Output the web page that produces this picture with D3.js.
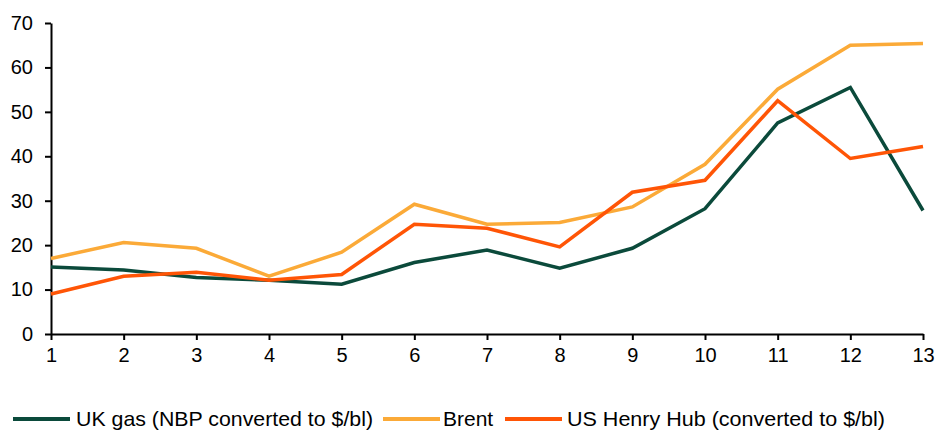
<!DOCTYPE html>
<html>
<head>
<meta charset="utf-8">
<script src="https://cdn.jsdelivr.net/npm/d3@7"></script>
<style>
  body { margin: 0; background: #fff; }
  #chart text { font-family: "Liberation Sans", Arial, sans-serif; fill: #000; }
  .axis path, .axis line { stroke: #000; stroke-width: 2px; }
  .line { fill: none; stroke-width: 3.5px; stroke-linejoin: miter; }
</style>
</head>
<body>
<div id="chart"></div>
<script>
// x positions 1..13
var periods = [1, 2, 3, 4, 5, 6, 7, 8, 9, 10, 11, 12, 13];
var ukGas = [15.1, 14.4, 12.7, 12.1, 11.2, 16.1, 18.9, 14.8, 19.3, 28.2, 47.5, 55.5, 27.8];
var brent = [17.0, 20.6, 19.3, 13.0, 18.4, 29.2, 24.7, 25.1, 28.6, 38.2, 55.1, 65.0, 65.4];
var henryHub = [9.0, 13.0, 13.9, 12.1, 13.4, 24.7, 23.8, 19.6, 31.9, 34.6, 52.5, 39.5, 42.2];
var yTicks = [0, 10, 20, 30, 40, 50, 60, 70];

var seriesNames = ["UK gas (NBP converted to $/bl)", "Brent", "US Henry Hub (converted to $/bl)"];
var seriesColors = ["#0b4a3b", "#fbaa38", "#ff5506"];
var seriesValues = [ukGas, brent, henryHub];

var W = 938, H = 430;
var margin = {top: 23, right: 15, bottom: 96, left: 51},
    width = W - margin.left - margin.right,
    height = H - margin.top - margin.bottom;

var svg = d3.select("#chart").append("svg")
    .attr("width", W)
    .attr("height", H);

var g = svg.append("g")
    .attr("transform", "translate(" + margin.left + "," + margin.top + ")");

var x = d3.scaleLinear().domain([1, 13]).range([0, width]);
var y = d3.scaleLinear().domain([0, 70]).range([height, 0]);

// Y axis
var yAxis = g.append("g")
    .attr("class", "axis")
    .call(d3.axisLeft(y).tickValues(yTicks).tickSize(6).tickPadding(12).tickSizeOuter(0));
yAxis.selectAll("text").style("font-size", "20px");

// X axis
var xAxis = g.append("g")
    .attr("class", "axis")
    .attr("transform", "translate(0," + height + ")")
    .call(d3.axisBottom(x).tickValues(periods).tickFormat(d3.format("d")).tickSize(6).tickPadding(8).tickSizeOuter(0));
xAxis.selectAll("text").style("font-size", "20px");

// Lines
var line = d3.line()
    .x(function(d, i) { return x(periods[i]); })
    .y(function(d) { return y(d); });

seriesValues.forEach(function(vals, i) {
    g.append("path")
        .attr("class", "line")
        .attr("stroke", seriesColors[i])
        .attr("d", line(vals));
});

// Legend
var legendY = 419;
var legendItems = [
    {sx: 13, tx: 76, tw: 297},
    {sx: 383, tx: 443, tw: 0},
    {sx: 505, tx: 567, tw: 318}
];
var legend = svg.append("g");
legendItems.forEach(function(it, i) {
    legend.append("line")
        .attr("x1", it.sx).attr("x2", it.sx + 57)
        .attr("y1", legendY).attr("y2", legendY)
        .attr("stroke", seriesColors[i])
        .attr("stroke-width", 4);
    var t = legend.append("text")
        .attr("x", it.tx)
        .attr("y", legendY + 7)
        .style("font-size", "21px")
        .text(seriesNames[i]);
    if (it.tw) t.attr("textLength", it.tw).attr("lengthAdjust", "spacingAndGlyphs");
});
</script>
</body>
</html>
